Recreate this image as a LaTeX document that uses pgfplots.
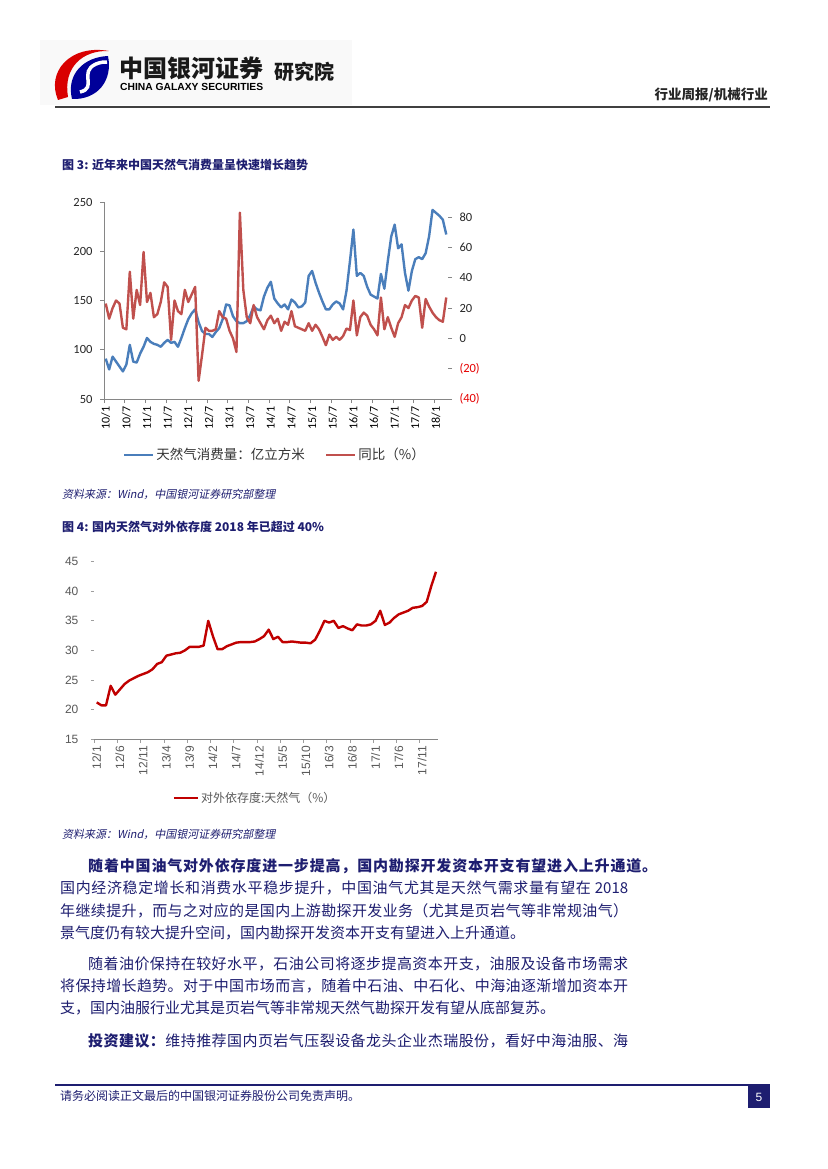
\documentclass[border=0pt]{standalone}
\usepackage{fontspec}
\usepackage{graphicx}
\usepackage{pgfplots}
\usepackage{pgfplotstable}
\pgfplotsset{compat=1.18}
\setmainfont{Carlito}
\newfontfamily\cjk{Noto Sans CJK SC}
\newfontfamily\cjki{Noto Sans CJK SC}[FakeSlant=0.2]
\newfontfamily\arial{Liberation Sans}
\newcommand\fs[1]{\fontsize{#1}{#1}\selectfont}
\makeatletter
\newcommand\jline[2]{\hbox to #1{\@tfor\jx:=#2\do{{\jx}\hskip 0pt plus 1fil}\unskip}}
\makeatother
\definecolor{navy}{RGB}{30,30,112}
\definecolor{xlblue}{RGB}{74,126,187}
\definecolor{xlred}{RGB}{192,80,77}
\definecolor{xred}{RGB}{230,0,0}
\definecolor{dred}{RGB}{192,0,0}
\definecolor{axgray}{RGB}{134,134,134}
\definecolor{lgray}{RGB}{89,89,89}

\pgfplotstableread{
i b r
0 91 23
1 80 13
2 93 20
3 88 25
4 83 23
5 78 7
6 85 6
7 105 44
8 88 13
9 87 32
10 96 22
11 103 57
12 112 24
13 108 30
14 106 14
15 105 16
16 103 24
17 107 37
18 110 34
19 107 -1
20 108 25
21 103 18
22 112 16
23 122 32
24 131 24
25 137 29
26 141 34
27 128 -28
28 119 -11
29 116 7
30 116 5
31 113 5
32 118 6
33 122 18
34 131 14
35 146 13
36 145 5
37 134 0
38 129 -9
39 127 83
40 127 32
41 129 14
42 135 10
43 144 22
44 141 14
45 140 10
46 154 6
47 163 12
48 169 15
49 152 10
50 147 13
51 143 5
52 146 11
53 141 9
54 151 18
55 148 8
56 143 7
57 144 6
58 148 5
59 175 10
60 180 5
61 168 9
62 158 6
63 149 1
64 141 -4.5
65 141 2.5
66 146 -1
67 149 1
68 147 -1
69 141 1.5
70 160 6.5
71 190 5.5
72 222 25
73 175 2
74 178 14
75 175 17
76 164 15
77 156 9
78 154 6
79 152 2
80 177 27
81 162 6
82 190 14
83 215 7
84 227 1
85 203 10
86 207 14
87 178 22
88 160 20
89 180 25
90 192 28
91 194 27
92 192 7
93 198 26
94 215 21
95 242 17
96 239 14
97 236 12
98 232 11
99 217 27
}\gasdata

\pgfplotstableread{
i v
0 21.2
1 20.7
2 20.7
3 24.0
4 22.5
5 23.4
6 24.3
7 24.9
8 25.3
9 25.7
10 26.0
11 26.3
12 26.8
13 27.7
14 28.0
15 29.1
16 29.3
17 29.5
18 29.6
19 30.0
20 30.6
21 30.6
22 30.6
23 30.8
24 35.0
25 32.4
26 30.2
27 30.2
28 30.7
29 31.0
30 31.3
31 31.4
32 31.4
33 31.4
34 31.5
35 31.9
36 32.4
37 33.5
38 31.9
39 32.3
40 31.4
41 31.4
42 31.5
43 31.4
44 31.3
45 31.3
46 31.2
47 31.8
48 33.3
49 35.0
50 34.7
51 35.0
52 33.8
53 34.1
54 33.7
55 33.4
56 34.4
57 34.2
58 34.2
59 34.4
60 35.0
61 36.7
62 34.3
63 34.7
64 35.5
65 36.1
66 36.4
67 36.7
68 37.2
69 37.3
70 37.5
71 38.2
72 40.9
73 43.3
}\depdata

\begin{document}
\begin{tikzpicture}
\begin{scope}[x=1pt,y=-1pt]
\path[use as bounding box] (0,0) rectangle (827,1169);
\fill[white] (0,0) rectangle (827,1169);
% header
\fill[gray!5] (40,40) rectangle (352,105);
\fill[red!85!black] (58,100) .. controls (46,72) and (70,44) .. (109,51) .. controls (82,50) and (63,68) .. (68,97) -- cycle;
\fill[blue!60!black] (72,99) .. controls (66,74) and (84,57) .. (108,56) .. controls (113,80) and (98,100) .. (72,99) -- cycle;
\draw[white, line width=3.5pt] (80,92) .. controls (98,88) and (78,72) .. (96,64) .. controls (101,62) and (104,62) .. (107,62);
\node[anchor=west, inner sep=0, font=\cjk\bfseries\fs{24}, text=black!90] at (119,68) {中国银河证券};
\node[anchor=west, inner sep=0] at (120,87) {\resizebox{143pt}{!}{\arial\bfseries CHINA GALAXY SECURITIES}};
\node[anchor=west, inner sep=0, font=\cjk\bfseries\fs{20}, text=black!90] at (274,72) {研究院};
\node[anchor=east, inner sep=0, font=\cjk\bfseries\fs{13.5}, text=black!85] at (768,95) {行业周报/机械行业};
\draw[line width=2.2pt, black!75] (55,107) -- (770,107);
% figure titles and sources
\node[anchor=west, inner sep=0, font=\cjk\bfseries\fs{12}, text=navy] at (62,165) {图 3: 近年来中国天然气消费量呈快速增长趋势};
\node[anchor=west, inner sep=0, font=\cjki\fs{11}, text=navy] at (62,494) {资料来源：Wind，中国银河证券研究部整理};
\node[anchor=west, inner sep=0, font=\cjk\bfseries\fs{12}, text=navy] at (62,527) {图 4: 国内天然气对外依存度 2018 年已超过 40\%};
\node[anchor=west, inner sep=0, font=\cjki\fs{11}, text=navy] at (62,834) {资料来源：Wind，中国银河证券研究部整理};
% body text
\begin{scope}[every node/.style={anchor=west, inner sep=0, text=navy, font=\cjk\fs{15}}]
\node[font=\cjk\bfseries\fs{15}] at (88,866) {\jline{569pt}{随着中国油气对外依存度进一步提高，国内勘探开发资本开支有望进入上升通道。}};
\node at (60,888) {\jline{568pt}{国内经济稳定增长和消费水平稳步提升，中国油气尤其是天然气需求量有望在{\ 2018}}};
\node at (60,911) {\jline{568pt}{年继续提升，而与之对应的是国内上游勘探开发业务（尤其是页岩气等非常规油气）}};
\node at (60,933) {景气度仍有较大提升空间，国内勘探开发资本开支有望进入上升通道。};
\node at (88,964) {\jline{540pt}{随着油价保持在较好水平，石油公司将逐步提高资本开支，油服及设备市场需求}};
\node at (60,986) {\jline{568pt}{将保持增长趋势。对于中国市场而言，随着中石油、中石化、中海油逐渐增加资本开}};
\node at (60,1008) {支，国内油服行业尤其是页岩气等非常规天然气勘探开发有望从底部复苏。};
\node at (88,1041) {\jline{540pt}{{\bfseries 投}{\bfseries 资}{\bfseries 建}{\bfseries 议}{\bfseries ：}维持推荐国内页岩气压裂设备龙头企业杰瑞股份，看好中海油服、海}};
\end{scope}
% footer
\draw[navy, line width=1.5pt] (55,1085) -- (770,1085);
\fill[navy] (748,1086) rectangle (770,1108);
\node[text=white, font=\arial\fs{12}] at (759,1097) {5};
\node[anchor=west, inner sep=0, font=\cjk\fs{12}, text=navy] at (60,1096) {请务必阅读正文最后的中国银河证券股份公司免责声明。};
\end{scope}

% ---------- Chart 1 (left axis) ----------
\begin{axis}[
  at={(104pt,-399pt)}, anchor=south west,
  scale only axis, width=344pt, height=197pt,
  xmin=-0.5, xmax=99.5, ymin=50, ymax=250,
  axis x line*=bottom, axis y line*=left,
  axis line style={draw=axgray, line width=0.8pt},
  tick style={draw=axgray, line width=0.8pt},
  tick align=outside, major tick length=4pt,
  xtick={-0.5,5.5,...,95.5},
  xticklabels={10/1,10/7,11/1,11/7,12/1,12/7,13/1,13/7,14/1,14/7,15/1,15/7,16/1,16/7,17/1,17/7,18/1},
  x tick label style={xshift=1.7pt, rotate=90, anchor=east, font=\fs{12}, text=black},
  ytick={50,100,...,250}, yticklabels={50,100,150,200,250},
  y tick label style={font=\fs{12.5}, text=black!85, xshift=-4pt},
]
\addplot[xlblue, line width=2.4pt, line join=round, mark=none] table[x=i,y=b]{\gasdata};
\end{axis}
% ---------- Chart 1 (right axis) ----------
\begin{axis}[
  at={(104pt,-399pt)}, anchor=south west,
  scale only axis, width=344pt, height=197pt,
  xmin=-0.5, xmax=99.5, ymin=-40, ymax=90,
  axis x line=none, axis y line*=right,
  y axis line style={draw=none},
  tick style={draw=axgray, line width=0.8pt},
  tick align=outside, major tick length=4pt,
  ytick={-40,-20,...,80},
  yticklabels={\textcolor{xred}{(40)},\textcolor{xred}{(20)},0,20,40,60,80},
  y tick label style={font=\fs{12.5}, text=black!85, xshift=4pt},
  legend style={draw=none, fill=none, at={(0.497,-0.284)}, anchor=center,
    legend columns=2, font=\cjk\fs{13.5}, text=black!80,
    /tikz/every even column/.append style={column sep=18pt}},
  legend image code/.code={\draw[#1] (0pt,0pt) -- (29pt,0pt);},
]
\addlegendimage{xlblue, line width=2.4pt}
\addlegendentry{天然气消费量：亿立方米}
\addplot[xlred, line width=2.4pt, line join=round, mark=none] table[x=i,y=r]{\gasdata};
\addlegendentry{同比（\%）}
\end{axis}

% ---------- Chart 2 ----------
\begin{axis}[
  at={(94.4pt,-739pt)}, anchor=south west,
  scale only axis, width=343.9pt, height=177.3pt,
  xmin=-0.5, xmax=73.5, ymin=15, ymax=45,
  axis x line*=bottom, axis y line*=left,
  x axis line style={draw=axgray, line width=0.8pt},
  y axis line style={draw=none},
  tick style={draw=axgray!80, line width=0.8pt},
  tick align=outside, major tick length=3.5pt,
  xtick={-0.5,4.5,...,69.5},
  xticklabels={12/1,12/6,12/11,13/4,13/9,14/2,14/7,14/12,15/5,15/10,16/3,16/8,17/1,17/6,17/11},
  x tick label style={xshift=2.3pt, rotate=90, anchor=east, font=\arial\fs{12}, text=lgray},
  ytick={15,20,...,45}, yticklabels={15,20,25,30,35,40,45},
  y tick label style={font=\arial\fs{12}, text=lgray, xshift=-9pt},
  legend style={draw=none, fill=none, at={(0.467,-0.333)}, anchor=center,
    font=\cjk\fs{12}, text=lgray},
  legend image code/.code={\draw[#1] (0pt,0pt) -- (24pt,0pt);},
]
\addplot[dred, line width=2.4pt, line join=round, mark=none] table[x=i,y=v]{\depdata};
\addlegendentry{对外依存度:天然气（\%）}
\end{axis}
\end{tikzpicture}
\end{document}
